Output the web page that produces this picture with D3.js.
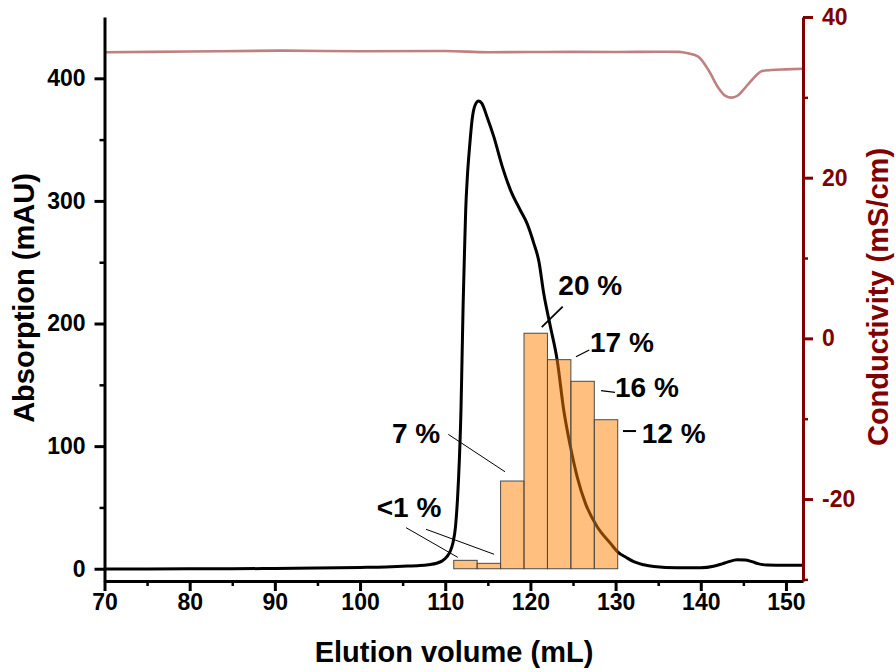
<!DOCTYPE html>
<html>
<head>
<meta charset="utf-8">
<script src="https://cdn.jsdelivr.net/npm/d3@7"></script>
<style>
  html, body { margin: 0; padding: 0; background: #fff; }
  svg { display: block; font-family: "Liberation Sans", Arial, sans-serif; font-weight: bold; }
</style>
</head>
<body>
<svg id="chart" width="896" height="672"></svg>
<script>
// UV absorption trace: elution volume (mL) and absorption (mAU)
const absorptionVolume = [70, 75, 80, 85, 90, 95, 100, 103, 105, 107, 108, 109, 109.6, 110.2, 110.6, 110.9,
  111.2, 111.45, 111.66, 111.85, 111.97, 112.1, 112.25, 112.4, 112.6, 112.87, 113.15, 113.5, 113.92, 114.3,
  114.9, 115.7, 116.7, 117.65, 118.8, 119.6, 120.4, 121.0, 121.56, 122.35, 123.14, 123.91, 124.7, 125.49,
  126.46, 127.84, 129.4, 130.2, 131.3, 132.2, 133.3, 134.5, 137.2, 140, 141.5, 142.5, 143.2, 144.3, 145.2,
  146.0, 146.7, 147.8, 149.8, 152];
const absorptionValue = [-0.3, -0.2, -0.1, 0, 0.2, 0.6, 1.1, 1.5, 2.0, 2.6, 3.3, 4.5, 6.2, 9.8, 14.5, 21,
  34, 58, 89, 130, 170, 215, 255, 292, 320, 345, 366, 378, 381.5, 379.6,
  368.7, 352.4, 328, 309, 292.6, 281.7, 265.4, 250.5, 224.6, 197.4, 170.2, 129.4, 99.5, 75,
  53.3, 34.3, 20.7, 14, 9.0, 5.5, 3.2, 1.8, 0.8, 0.8, 2.0, 4.0, 5.6, 7.3, 7.2,
  5.8, 4.2, 3.0, 2.8, 2.8];

// Conductivity trace: elution volume (mL) and conductivity (mS/cm)
const conductivityVolume = [70, 80, 91, 100, 110, 115, 120, 125, 130, 135, 137.4, 138.5, 139.7, 140.9,
  142.1, 142.9, 143.6, 144.3, 144.8, 146.0, 147.2, 148.3, 149.9, 152];
const conductivityValue = [35.61, 35.7, 35.81, 35.74, 35.77, 35.62, 35.64, 35.66, 35.64, 35.67, 35.66,
  35.48, 35.06, 33.4, 31.13, 30.17, 29.96, 30.2, 30.7, 32.16, 33.28, 33.4, 33.48, 33.55];

// Collected fractions: start volume (mL), common width (mL), share of product (%)
const fractionStart = [111, 113.75, 116.5, 119.25, 122, 124.75, 127.5];
const fractionWidth = 2.75;
const fractionPercent = [0.7, 0.45, 7.3, 19.6, 17.4, 15.6, 12.4];

// Axis ticks
const xMajorTicks = [70, 80, 90, 100, 110, 120, 130, 140, 150];
const xMinorTicks = [75, 85, 95, 105, 115, 125, 135, 145];
const yLeftMajorTicks = [0, 100, 200, 300, 400];
const yLeftMinorTicks = [50, 150, 250, 350];
const yRightMajorTicks = [-20, 0, 20, 40];
const yRightMinorTicks = [-30, -10, 10, 30];

// Bar heights share the absorption axis: 1 % of product is drawn as this many mAU
const mAUPerPercent = 9.8;

// Label placement for the fraction annotations, in data units (mL, mAU)
const fractionLabelLayout = [
  { bars: [0, 1], at: [101.96, 42.4], width: 1,
    leaders: [[105.4, 33.5, 111.47, 9.3], [107.74, 32.2, 115.73, 11.8]] },
  { bars: [2], at: [103.75, 102.3], width: 1, leaders: [[110.36, 109.6, 117.02, 79.1]] },
  { bars: [3], at: [123.28, 223.3], width: 1.8, leaders: [[121.33, 197.1, 123.79, 213.7]] },
  { bars: [4], at: [127.0, 177.0], width: 1.3, leaders: [[125.35, 172.9, 126.91, 178.4]] },
  { bars: [5], at: [129.93, 140.3], width: 1.3, leaders: [[128.29, 145.2, 129.93, 143.9]] },
  { bars: [6], at: [133.07, 102.3], width: 2, leaders: [[130.87, 112.3, 132.4, 112.3]] }
];

const condColor = "#800000";
const svg = d3.select("#chart");

const x = d3.scaleLinear().domain([70, 152]).range([104.5, 803]);
const yL = d3.scaleLinear().domain([-10, 450]).range([581, 17]);
const yR = d3.scaleLinear().domain([-30.2, 40]).range([581, 17]);
const yPct = d3.scaleLinear().domain(yL.domain().map(v => v / mAUPerPercent)).range(yL.range());

// Conductivity trace
const condData = conductivityVolume.map((v, i) => [v, conductivityValue[i]]);
svg.append("path")
  .datum(condData)
  .attr("fill", "none")
  .attr("stroke", "#c08080")
  .attr("stroke-width", 2.6)
  .attr("d", d3.line().x(d => x(d[0])).y(d => yR(d[1])).curve(d3.curveMonotoneX));

// Absorption trace
const absData = absorptionVolume.map((v, i) => [v, absorptionValue[i]]);
svg.append("path")
  .datum(absData)
  .attr("fill", "none")
  .attr("stroke", "#000")
  .attr("stroke-width", 3)
  .attr("stroke-linejoin", "round")
  .attr("d", d3.line().x(d => x(d[0])).y(d => yL(d[1])).curve(d3.curveMonotoneX));

// Fraction bars (translucent, over the trace)
svg.append("g")
  .selectAll("rect")
  .data(fractionPercent)
  .join("rect")
  .attr("x", (d, i) => x(fractionStart[i]))
  .attr("width", (d, i) => x(fractionStart[i] + fractionWidth) - x(fractionStart[i]))
  .attr("y", d => yPct(d))
  .attr("height", d => yPct(0) - yPct(d))
  .attr("fill", "#ff8000")
  .attr("fill-opacity", 0.5)
  .attr("stroke", "#4a4a4a")
  .attr("stroke-width", 1);

// Fraction annotations
const pctText = vals => {
  const m = d3.max(vals);
  return m < 1 ? "<1 %" : Math.round(m) + " %";
};
const ann = svg.append("g");
fractionLabelLayout.forEach(a => {
  a.leaders.forEach(l => {
    ann.append("line")
      .attr("x1", x(l[0])).attr("y1", yL(l[1]))
      .attr("x2", x(l[2])).attr("y2", yL(l[3]))
      .attr("stroke", "#000").attr("stroke-width", a.width);
  });
  ann.append("text")
    .attr("x", x(a.at[0])).attr("y", yL(a.at[1]))
    .attr("font-size", 28)
    .attr("fill", "#000")
    .text(pctText(a.bars.map(i => fractionPercent[i])));
});

// Axes
const plainNumber = d => String(d);
function styleAxis(g, color, width) {
  g.attr("font-family", null).attr("font-size", null);
  g.selectAll("path.domain").attr("stroke", color).attr("stroke-width", width);
  g.selectAll(".tick line").attr("stroke", color).attr("stroke-width", width);
  g.selectAll(".tick text").attr("fill", color).attr("font-size", 23);
}

// Bottom axis
const gxMinor = svg.append("g").attr("transform", `translate(0,${yL.range()[0]})`)
  .call(d3.axisBottom(x).tickValues(xMinorTicks).tickSize(5).tickFormat(""));
gxMinor.select("path.domain").remove();
styleAxis(gxMinor, "#000", 2.5);
const gx = svg.append("g").attr("transform", `translate(0,${yL.range()[0]})`)
  .call(d3.axisBottom(x).tickValues(xMajorTicks).tickSize(10).tickSizeOuter(0).tickPadding(3).tickFormat(plainNumber));
styleAxis(gx, "#000", 3);

// Left axis
const gyMinor = svg.append("g").attr("transform", `translate(${x.range()[0]},0)`)
  .call(d3.axisLeft(yL).tickValues(yLeftMinorTicks).tickSize(5).tickFormat(""));
gyMinor.select("path.domain").remove();
styleAxis(gyMinor, "#000", 2.5);
const gy = svg.append("g").attr("transform", `translate(${x.range()[0]},0)`)
  .call(d3.axisLeft(yL).tickValues(yLeftMajorTicks).tickSize(10).tickSizeOuter(0).tickPadding(9).tickFormat(plainNumber));
styleAxis(gy, "#000", 3);

// Right axis
const gyRMinor = svg.append("g").attr("transform", `translate(${x.range()[1]},0)`)
  .call(d3.axisRight(yR).tickValues(yRightMinorTicks).tickSize(5).tickFormat(""));
gyRMinor.select("path.domain").remove();
styleAxis(gyRMinor, condColor, 2.5);
const gyR = svg.append("g").attr("transform", `translate(${x.range()[1]},0)`)
  .call(d3.axisRight(yR).tickValues(yRightMajorTicks).tickSize(10).tickSizeOuter(0).tickPadding(9).tickFormat(plainNumber));
styleAxis(gyR, condColor, 3);

// Axis titles
svg.append("text")
  .attr("x", 454).attr("y", 662)
  .attr("text-anchor", "middle").attr("font-size", 29).attr("fill", "#000")
  .text("Elution volume (mL)");
svg.append("text")
  .attr("transform", "translate(34,298) rotate(-90)")
  .attr("text-anchor", "middle").attr("font-size", 29).attr("fill", "#000")
  .text("Absorption (mAU)");
svg.append("text")
  .attr("transform", "translate(888,297) rotate(-90)")
  .attr("text-anchor", "middle").attr("font-size", 29).attr("fill", condColor)
  .text("Conductivity (mS/cm)");
</script>
</body>
</html>
